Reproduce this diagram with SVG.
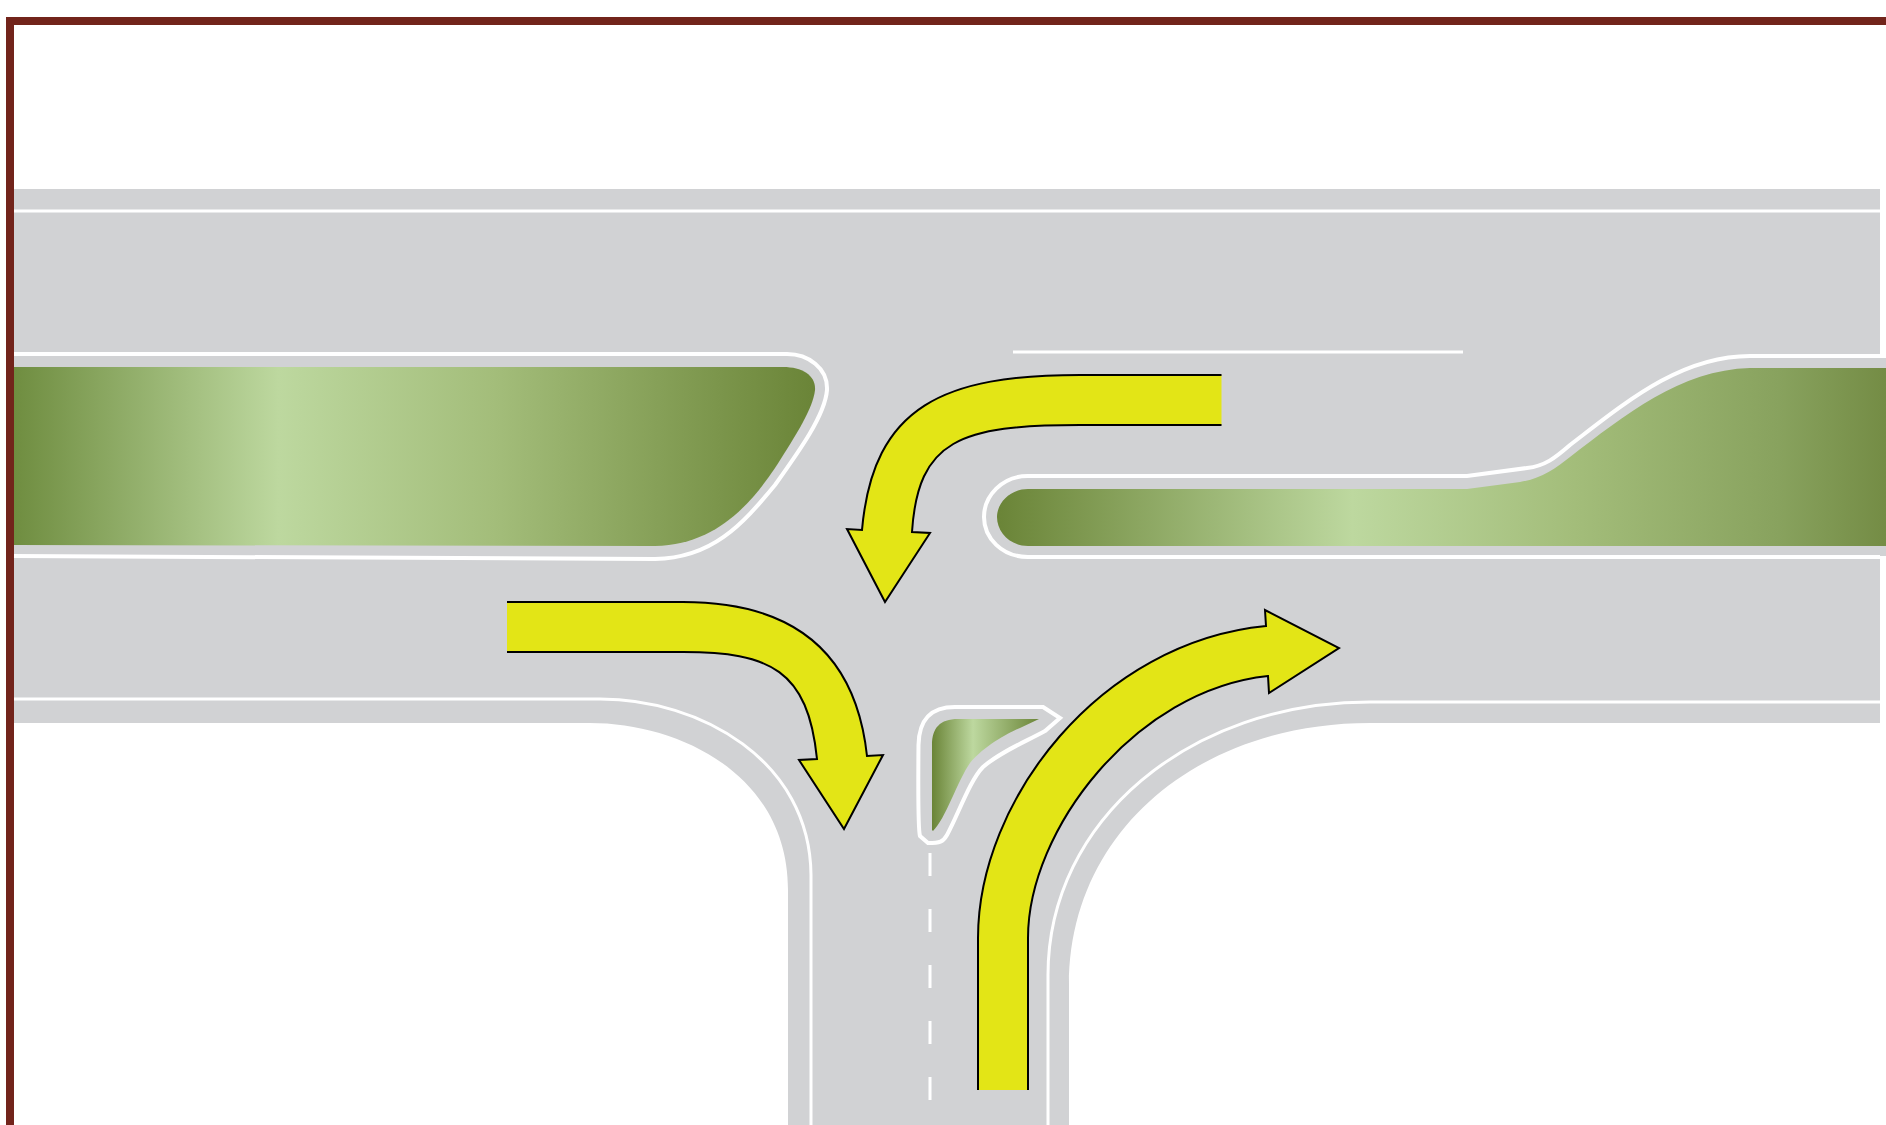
<svg xmlns="http://www.w3.org/2000/svg" width="1886" height="1125" viewBox="0 0 1886 1125">
<style>
.road{fill:#d1d2d4}
.line{fill:none;stroke:#fff;stroke-width:3}
.edge{fill:none;stroke:#fff;stroke-width:4}
.arrow{fill:#e3e516;stroke:#000;stroke-width:2;stroke-linejoin:miter}
</style>
<defs>
<linearGradient id="gL" gradientUnits="userSpaceOnUse" x1="14" y1="0" x2="816" y2="0"><stop offset="0" stop-color="#6f8d40"/><stop offset=".33" stop-color="#bdd89f"/><stop offset=".6" stop-color="#a3bd7a"/><stop offset="1" stop-color="#6a8437"/></linearGradient>
<linearGradient id="gR" gradientUnits="userSpaceOnUse" x1="997" y1="0" x2="1886" y2="0"><stop offset="0" stop-color="#6a8437"/><stop offset=".4" stop-color="#bdd89f"/><stop offset=".65" stop-color="#a3bd7a"/><stop offset=".88" stop-color="#88a25e"/><stop offset="1" stop-color="#748c45"/></linearGradient>
<linearGradient id="gS" gradientUnits="userSpaceOnUse" x1="932" y1="0" x2="1040" y2="0"><stop offset="0" stop-color="#6a8437"/><stop offset=".38" stop-color="#bdd89f"/><stop offset="1" stop-color="#6a8437"/></linearGradient>
</defs>
<g id="frame"><path d="M10 1125V21H1886" fill="none" stroke="#72241b" stroke-width="8"/></g>
<g id="road">
<path class="road" d="M14 189H1880V358H1886V556H1880V723H1370C1200 723 1069 830 1069 985V1125H788V890C788 775 680 723 590 723H14Z"/>
</g>
<g id="island-left">
<path d="M14 367H783C803 367 816 376 815 390C813 408 798 432 775 468C750 505 715 545 655 546L14 545Z" fill="url(#gL)"/>
<path class="edge" d="M14 556L655 559C712 558 742 525 775 485C800 450 825 415 827 390C828 368 808 354 787 354H14"/>
</g>
<g id="island-right">
<path d="M1886 368H1750C1680 370 1625 415 1570 457C1555 469 1540 479 1520 482L1467 489H1028C1010 489 997 503 997 517C997 532 1010 546 1028 546H1886Z" fill="url(#gR)"/>
<path class="edge" d="M1880 356H1750C1680 356 1625 403 1570 445C1555 458 1545 466 1527 468L1467 476H1028C1002 476 984 496 984 517C984 538 1002 557 1028 557H1880"/>
</g>
<g id="island-small">
<path d="M1039 719L1020 728C1010 732 985 745 970 763C958 780 945 820 933 831L932 830V745C932 728 940 719 958 719Z" fill="url(#gS)"/>
<path class="edge" d="M1043 707L1060 718L1045 731C1025 742 1000 752 983 767C970 780 958 815 947 835C943 842 940 843 928 843L920 836C918 830 918 800 918.500 745C919 720 930 707 955 707Z"/>
</g>
<g id="lane-lines">
<path class="line" d="M14 211H1880"/>
<path class="line" d="M1013 352H1463"/>
<path class="line" d="M14 699H600C700 699 810 760 811 875V1125"/>
<path class="line" d="M1048 1125V975C1048 820 1190 702 1370 702H1880"/>
<path class="line" style="stroke-dasharray:23 33" d="M930 853V1100"/>
</g>
<g id="connectors">
<path class="arrow" d="M1221.500 375H1080C945 375 873 405 862 530L847 529L885 602L930 533L912 532C918 440 960 425 1080 425H1221.500"/>
<path class="arrow" d="M507 602H683C785 602 855 645 867 756L883 755L844 829L799 760L817 759C808 670 770 652 683 652H507"/>
<path class="arrow" d="M978 1090V938C978 800 1100 642 1266 626L1265 610L1339 648L1269 693L1268 676C1135 690 1028 830 1028 938V1090"/>
</g>
</svg>
